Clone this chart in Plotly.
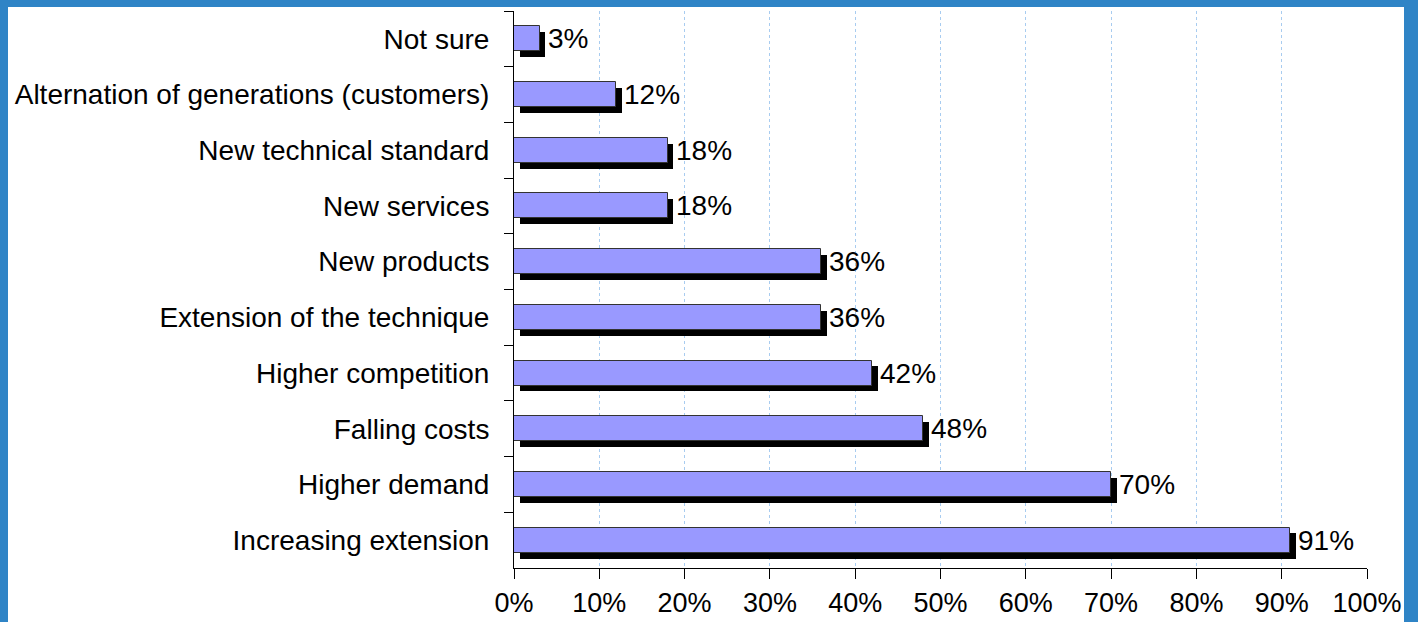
import plotly.graph_objects as go

categories = [
    "Not sure",
    "Alternation of generations (customers)",
    "New technical standard",
    "New services",
    "New products",
    "Extension of the technique",
    "Higher competition",
    "Falling costs",
    "Higher demand",
    "Increasing extension",
]
values = [3, 12, 18, 18, 36, 36, 42, 48, 70, 91]
value_labels = [f"{v}%" for v in values]
x_ticks = [0, 10, 20, 30, 40, 50, 60, 70, 80, 90, 100]
x_tick_labels = [f"{t}%" for t in x_ticks]

W, H = 1418, 622
L, R, T, B = 514, 51, 11, 54
pw, ph = W - L - R, H - T - B

def px_x(p):
    return (p - L) / pw

def px_y(p):
    return 1 - (p - T) / ph

FONT = "Liberation Sans, Arial, sans-serif"
bar_w = 0.45
shadow_dy = 0.105

fig = go.Figure()
fig.add_trace(go.Bar(
    y=categories, x=values, orientation="h", base=0.65,
    width=bar_w, offset=-bar_w / 2 + shadow_dy,
    marker=dict(color="black", line=dict(width=0)),
    hoverinfo="skip", showlegend=False,
))
fig.add_trace(go.Bar(
    y=categories, x=values, orientation="h",
    width=bar_w, offset=-bar_w / 2,
    marker=dict(color="#9999FF", line=dict(color="#333333", width=1)),
    showlegend=False,
))

for c, v, t in zip(categories, values, value_labels):
    fig.add_annotation(x=v, y=c, text=t, showarrow=False, xanchor="left",
                       xshift=6, font=dict(size=28, color="black", family=FONT))

border = "#2F84C6"
shapes = [
    dict(type="rect", xref="paper", yref="paper", x0=px_x(0), x1=px_x(8), y0=px_y(0), y1=px_y(H),
         fillcolor=border, line=dict(width=0), layer="above"),
    dict(type="rect", xref="paper", yref="paper", x0=px_x(0), x1=px_x(W), y0=px_y(0), y1=px_y(7),
         fillcolor=border, line=dict(width=0), layer="above"),
    dict(type="rect", xref="paper", yref="paper", x0=px_x(1404), x1=px_x(W), y0=px_y(0), y1=px_y(H),
         fillcolor=border, line=dict(width=0), layer="above"),
]

fig.update_layout(
    width=W, height=H,
    margin=dict(l=L, r=R, t=T, b=B, pad=0, autoexpand=False),
    paper_bgcolor="white", plot_bgcolor="white",
    barmode="overlay", bargap=0,
    font=dict(family=FONT, size=28, color="black"),
    shapes=shapes,
    xaxis=dict(
        range=[0, 100], tickvals=x_ticks, ticktext=x_tick_labels,
        showgrid=True, gridcolor="#A8CCF0", griddash="dot", gridwidth=1,
        showline=True, linecolor="black", linewidth=1,
        ticks="outside", ticklen=10, tickcolor="black",
        tickfont=dict(size=27), zeroline=False, fixedrange=True,
        automargin=False, ticklabelstandoff=1,
    ),
    yaxis=dict(
        autorange="reversed", type="category",
        showline=True, linecolor="black", linewidth=1,
        ticks="outside", ticklen=9, tickcolor="black", tickson="boundaries",
        showgrid=False, tickfont=dict(size=28), ticklabelstandoff=18,
        automargin=False, fixedrange=True,
    ),
)

fig.write_html("out.html", config={"displayModeBar": False},
               post_script="document.body.style.margin='0px';")
